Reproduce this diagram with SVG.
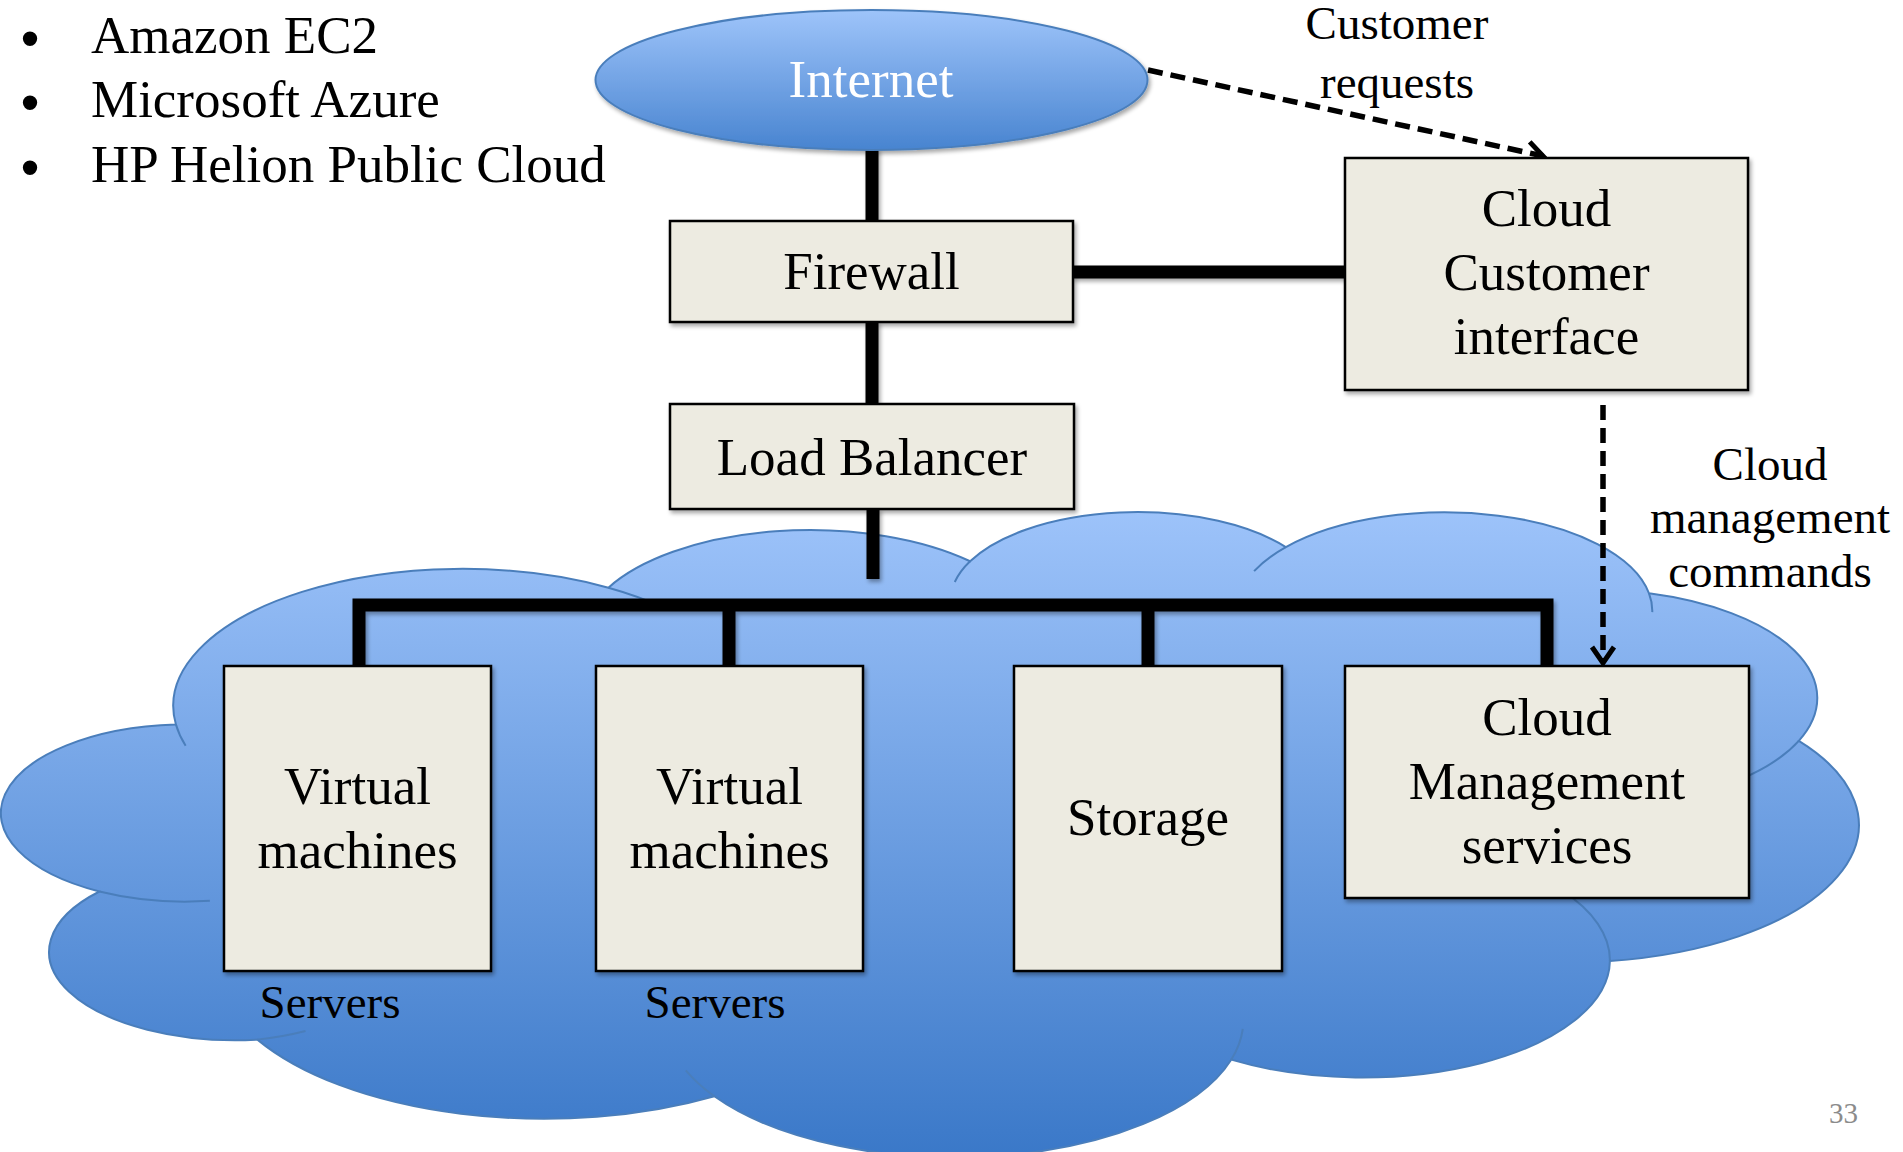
<svg xmlns="http://www.w3.org/2000/svg" width="1903" height="1152" viewBox="0 0 1903 1152">
<style>
.t{font-family:"Liberation Serif","Times New Roman",serif;fill:#000}
.n{font-size:53px;text-anchor:middle}
.l{font-size:47px;text-anchor:middle}
.b{font-family:"Liberation Sans",Arial,sans-serif;font-size:53px;text-anchor:middle}
.box{fill:#EDEBE1;stroke:#000;stroke-width:2.5}
.thick{stroke:#000;stroke-width:13;fill:none}
.dash{stroke:#000;stroke-width:5.5;fill:none;stroke-dasharray:15 8}
</style>
<defs>
<linearGradient id="cg" x1="0" y1="0" x2="0" y2="1">
<stop offset="0" stop-color="#9DC3FA"/>
<stop offset="1" stop-color="#3A78C8"/>
</linearGradient>
<linearGradient id="ig" x1="0" y1="0" x2="0" y2="1">
<stop offset="0" stop-color="#9EC4FA"/>
<stop offset="1" stop-color="#4884D0"/>
</linearGradient>
<filter id="sh" x="-10%" y="-10%" width="130%" height="130%">
<feGaussianBlur in="SourceAlpha" stdDeviation="2"/>
<feOffset dx="2" dy="3" result="b"/>
<feComponentTransfer><feFuncA type="linear" slope="0.35"/></feComponentTransfer>
<feMerge><feMergeNode/><feMergeNode in="SourceGraphic"/></feMerge>
</filter>
<marker id="ah" viewBox="-20 -14 24 28" markerWidth="24" markerHeight="28" refX="0" refY="0" orient="auto" markerUnits="userSpaceOnUse">
<path d="M-16,-11 L0,0 L-16,11" fill="none" stroke="#000" stroke-width="5"/>
</marker>
</defs>

<g id="bullets" class="t">
<text class="b" x="30" y="57">•</text>
<text class="b" x="30" y="121">•</text>
<text class="b" x="30" y="186">•</text>
<text x="91" y="53" font-size="53">Amazon EC2</text>
<text x="91" y="117" font-size="53">Microsoft Azure</text>
<text x="91" y="182" font-size="53">HP Helion Public Cloud</text>
</g>

<g id="cloud">
<g transform="matrix(0.0428 0 0 0.01493 9 510)">
<path d="M3900,14370 A6753,9190 0 0 1 14005,5202 A5333,7267 0 0 1 22456,3433 A4365,5945 0 0 1 29833,2482 A4857,6595 0 0 1 38318,5578 A5333,7273 0 0 1 41818,15462 A6775,9220 0 0 1 37404,30206 A5785,7867 0 0 1 28556,36816 A6752,9215 0 0 1 16481,39268 A7720,10543 0 0 1 5805,35474 A4360,5918 0 0 1 2113,25553 A4345,5945 0 0 1 3900,14370 Z" fill="url(#cg)" stroke="#4A7EBB" stroke-width="2" vector-effect="non-scaling-stroke"/>
<path d="M4127,15789 A6753,9190 0 0 1 3900,14370 M4693,26177 A4345,5945 0 0 1 2113,25553 M6928,34899 A4360,5918 0 0 1 5805,35474 M16481,39268 A6752,9215 0 0 1 15813,37528 M28827,34751 A6752,9215 0 0 1 28556,36816 M36279,25483 A5785,7867 0 0 1 37404,30206 M41818,15462 A5333,7273 0 0 1 40478,18009 M38318,5578 A4857,6595 0 0 1 38394,6842 M29091,4095 A4857,6595 0 0 1 29833,2482 M22097,4823 A4365,5945 0 0 1 22456,3433 M14005,5202 A6753,9190 0 0 1 15305,6550" fill="none" stroke="#4A7EBB" stroke-width="2" vector-effect="non-scaling-stroke"/>
</g>
</g>

<g id="connectors">
<g filter="url(#sh)">
<line class="thick" x1="872" y1="148" x2="872" y2="222"/>
<line class="thick" x1="872" y1="321" x2="872" y2="405"/>
<line class="thick" x1="1072" y1="272" x2="1346" y2="272"/>
<line class="thick" x1="873" y1="508" x2="873" y2="579"/>
<path class="thick" d="M359,667 V605 H1547 V667"/>
<line class="thick" x1="729" y1="605" x2="729" y2="667"/>
<line class="thick" x1="1148" y1="605" x2="1148" y2="667"/>
</g>
<line class="dash" x1="1148" y1="70" x2="1543" y2="156" marker-end="url(#ah)"/>
<line class="dash" x1="1603" y1="405" x2="1603" y2="663" marker-end="url(#ah)"/>
</g>

<g id="internet">
<ellipse cx="871.5" cy="80" rx="276" ry="70" fill="url(#ig)" stroke="#4A7EBB" stroke-width="2" filter="url(#sh)"/>
<text class="t n" x="871" y="97" style="fill:#fff">Internet</text>
</g>

<g id="firewall">
<rect class="box" x="670" y="221" width="403" height="101" filter="url(#sh)"/>
<text class="t n" x="871.5" y="289">Firewall</text>
</g>

<g id="load-balancer">
<rect class="box" x="670" y="404" width="404" height="105" filter="url(#sh)"/>
<text class="t n" x="872" y="475">Load Balancer</text>
</g>

<g id="cloud-customer-interface">
<rect class="box" x="1345" y="158" width="403" height="232" filter="url(#sh)"/>
<text class="t n" x="1546.5" y="226">Cloud</text>
<text class="t n" x="1546.5" y="290">Customer</text>
<text class="t n" x="1546.5" y="354">interface</text>
</g>

<g id="vm1">
<rect class="box" x="224" y="666" width="267" height="305" filter="url(#sh)"/>
<text class="t n" x="357.5" y="804">Virtual</text>
<text class="t n" x="357.5" y="868">machines</text>
</g>

<g id="vm2">
<rect class="box" x="596" y="666" width="267" height="305" filter="url(#sh)"/>
<text class="t n" x="729.5" y="804">Virtual</text>
<text class="t n" x="729.5" y="868">machines</text>
</g>

<g id="storage">
<rect class="box" x="1014" y="666" width="268" height="305" filter="url(#sh)"/>
<text class="t n" x="1148" y="835">Storage</text>
</g>

<g id="cloud-management-services">
<rect class="box" x="1345" y="666" width="404" height="232" filter="url(#sh)"/>
<text class="t n" x="1547" y="735">Cloud</text>
<text class="t n" x="1547" y="799">Management</text>
<text class="t n" x="1547" y="863">services</text>
</g>

<g id="labels" class="t">
<text class="l" x="330" y="1018">Servers</text>
<text class="l" x="715" y="1018">Servers</text>
<text class="l" x="1397" y="39">Customer</text>
<text class="l" x="1397" y="98">requests</text>
<text class="l" x="1770" y="480">Cloud</text>
<text class="l" x="1770" y="533">management</text>
<text class="l" x="1770" y="587">commands</text>
<text x="1829" y="1123" font-size="29" style="fill:#8B8B8B">33</text>
</g>
</svg>
